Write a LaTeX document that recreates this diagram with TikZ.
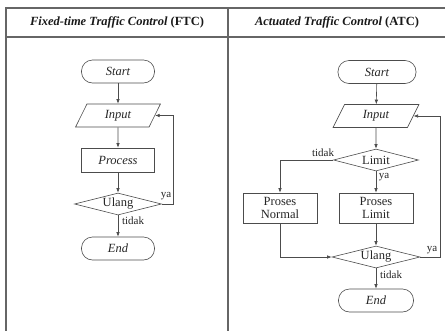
\documentclass[tikz,border=0pt]{standalone}
\usepackage{fontspec}
\setmainfont{Liberation Serif}
\usetikzlibrary{shapes.geometric,arrows.meta}
\tikzset{
  ln/.style={draw=black!70, line width=0.6pt},
  term/.style={ln, rectangle, rounded corners=11pt, minimum width=73pt, minimum height=23pt, inner sep=0pt, font=\fontsize{12.5}{14}\selectfont\itshape, text=black!85},
  io/.style={ln, trapezium, trapezium left angle=66, trapezium right angle=114, trapezium stretches=true, minimum width=85pt, minimum height=23pt, inner sep=0pt, font=\fontsize{12.5}{14}\selectfont\itshape, text=black!85},
  proc/.style={ln, rectangle, minimum width=73pt, minimum height=24pt, inner sep=0pt, align=center, font=\fontsize{12.5}{13}\selectfont, text=black!85},
  dec/.style={ln, diamond, aspect=4, minimum width=87pt, minimum height=22pt, inner sep=0pt, font=\fontsize{12.5}{14}\selectfont, text=black!85},
  arr/.style={ln, -{Latex[length=4.5pt,width=3.5pt]}},
  lbl/.style={font=\fontsize{11}{12}\selectfont, text=black!85, inner sep=0pt},
  tbl/.style={draw=black!60, line width=1.3pt},
  hdr/.style={font=\fontsize{12.5}{14}\selectfont\bfseries, text=black!90, inner sep=0pt}
}
\begin{document}
\begin{tikzpicture}[x=1pt,y=-1pt]
\useasboundingbox (0,0) rectangle (445,330);
% table
\draw[tbl] (6,340) -- (6,8) -- (460,8);
\draw[tbl] (6,37) -- (460,37);
\draw[tbl] (228,8) -- (228,340);
\node[hdr] (h1) at (117,22) {\textit{Fixed-time Traffic Control} (FTC)};
\node[hdr] (h2) at (337,22) {\textit{Actuated Traffic Control} (ATC)};
% left chart
\node[term] (ls) at (118,71.5) {Start};
\node[io] (li) at (118,115.5) {Input};
\node[proc, font=\fontsize{12.5}{13}\selectfont\itshape] (lp) at (118,160) {Process};
\node[dec] (lu) at (118,204) {Ulang};
\node[term] (le) at (118,248.5) {End};
\draw[arr] (ls) -- (li);
\draw[arr] (li) -- (lp);
\draw[arr] (lp) -- (lu);
\draw[arr] (lu) -- (le);
\coordinate (lc) at (173,204);
\draw[arr] (lu.east) -- (lc) |- (li.east);
\node[lbl] (lya) at (166,196) {ya};
\node[lbl] (ltd) at (133,221) {tidak};
% right chart
\node[term, minimum width=78pt] (rs) at (377,72) {Start};
\node[io, minimum width=86pt] (ri) at (376,116) {Input};
\node[dec, minimum width=85pt] (rl) at (376,160) {Limit};
\node[proc, minimum width=74pt, minimum height=30pt] (rn) at (280,208) {Proses\\Normal};
\node[proc, minimum width=74pt, minimum height=30pt] (rp) at (376,208) {Proses\\Limit};
\node[dec, minimum width=88pt] (ru) at (376,257) {Ulang};
\node[term, minimum width=75pt] (re) at (376,300.5) {End};
\draw[arr] (rs) -- (ri);
\draw[arr] (ri) -- (rl);
\draw[arr] (rl.west) -| (rn.north);
\draw[arr] (rl) -- (rp);
\draw[arr] (rp) -- (ru);
\draw[arr] (rn.south) |- (ru.west);
\coordinate (rc) at (440,257);
\draw[arr] (ru.east) -- (rc) |- (ri.east);
\draw[arr] (ru) -- (re);
\node[lbl] (rtd1) at (323,153) {tidak};
\node[lbl] (rya1) at (384,177) {ya};
\node[lbl] (rya2) at (432,250) {ya};
\node[lbl] (rtd2) at (391,275) {tidak};
\end{tikzpicture}
\end{document}
